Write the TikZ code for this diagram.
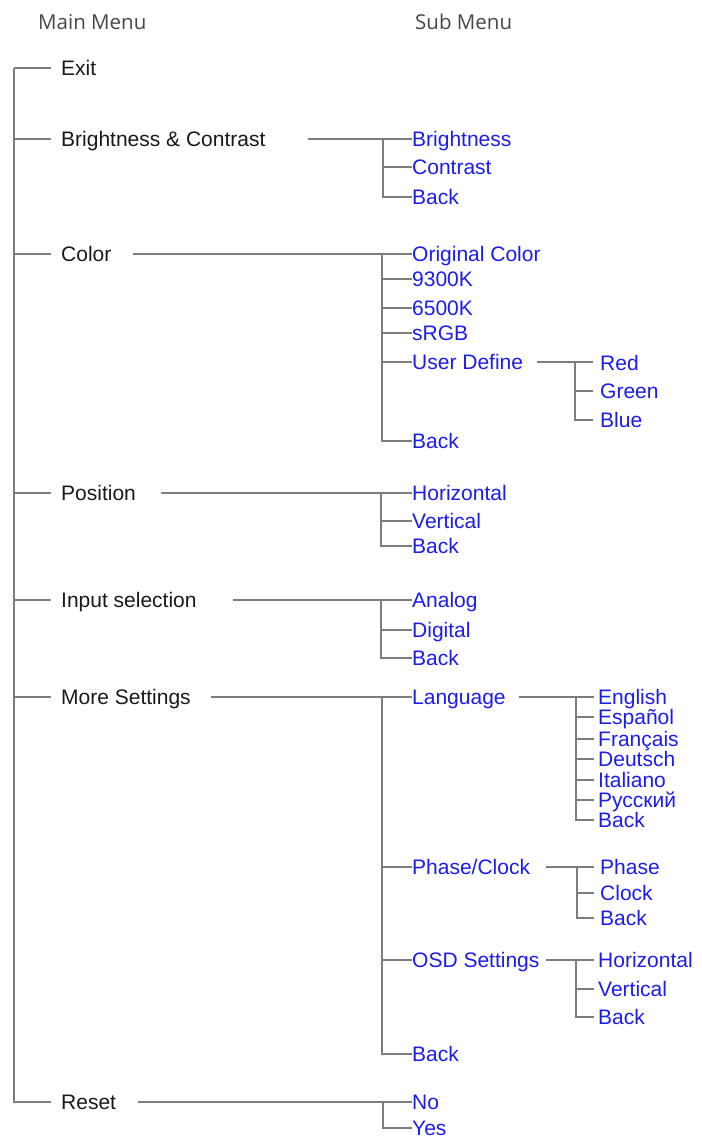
\documentclass[tikz,border=0pt]{standalone}
\usepackage{fontspec}
\setmainfont{Liberation Sans}
\newfontfamily\headfont{Open Sans}
\usetikzlibrary{positioning}

\definecolor{menublue}{RGB}{28,28,235}
\definecolor{treegray}{RGB}{125,125,125}

\begin{document}
\begin{tikzpicture}[
    x=1pt, y=-1pt,
    every node/.style={inner sep=0pt, anchor=west, text height=15pt, text depth=0pt},
    head/.style={font=\headfont\fontsize{20.5}{24}\selectfont, text=black!72},
    mainitem/.style={font=\fontsize{21}{25}\selectfont, text=black!90},
    subitem/.style={font=\fontsize{21}{25}\selectfont, text=menublue},
    link/.style={draw=treegray, line width=1.4pt}
]
    \useasboundingbox (0,0) rectangle (701,1139);

    % Headers
    \node (mainhead) [head] at (38,22) {Main Menu};
    \node (subhead) [head] at (415,22) {Sub Menu};

    % Main menu
    \node (exit) [mainitem] at (61,68) {Exit};
    \node (bc) [mainitem] at (61,139) {Brightness \& Contrast};
    \node (color) [mainitem] at (61,254) {Color};
    \node (position) [mainitem] at (61,493) {Position};
    \node (input) [mainitem] at (61,600) {Input selection};
    \node (more) [mainitem] at (61,697) {More Settings};
    \node (reset) [mainitem] at (61,1102) {Reset};

    % Brightness & Contrast
    \node (bright) [subitem] at (412,139) {Brightness};
    \node (contrast) [subitem] at (412,167) {Contrast};
    \node (bcback) [subitem] at (412,197) {Back};

    % Color
    \node (orig) [subitem] at (412,254) {Original Color};
    \node (k9300) [subitem] at (412,279) {9300K};
    \node (k6500) [subitem] at (412,308) {6500K};
    \node (srgb) [subitem] at (412,333) {sRGB};
    \node (userdef) [subitem] at (412,362) {User Define};
    \node (colback) [subitem] at (412,441) {Back};
    \node (udred) [subitem] at (600,363) {Red};
    \node (udgreen) [subitem] at (600,391) {Green};
    \node (udblue) [subitem] at (600,420) {Blue};

    % Position
    \node (horiz) [subitem] at (412,493) {Horizontal};
    \node (vert) [subitem] at (412,521) {Vertical};
    \node (posback) [subitem] at (412,546) {Back};

    % Input selection
    \node (analog) [subitem] at (412,600) {Analog};
    \node (digital) [subitem] at (412,630) {Digital};
    \node (inback) [subitem] at (412,658) {Back};

    % More Settings
    \node (lang) [subitem] at (412,697) {Language};
    \node (phaseclock) [subitem] at (412,867) {Phase/Clock};
    \node (osd) [subitem] at (412,960) {OSD Settings};
    \node (moreback) [subitem] at (412,1054) {Back};
    \node (english) [subitem] at (598,697) {English};
    \node (espanol) [subitem] at (598,717) {Español};
    \node (francais) [subitem] at (598,739) {Français};
    \node (deutsch) [subitem] at (598,759) {Deutsch};
    \node (italiano) [subitem] at (598,780) {Italiano};
    \node (russian) [subitem] at (598,800) {Русский};
    \node (langback) [subitem] at (598,820) {Back};
    \node (phase) [subitem] at (600,867) {Phase};
    \node (clock) [subitem] at (600,893) {Clock};
    \node (phback) [subitem] at (600,918) {Back};
    \node (osdh) [subitem] at (598,960) {Horizontal};
    \node (osdv) [subitem] at (598,989) {Vertical};
    \node (osdback) [subitem] at (598,1017) {Back};

    % Reset
    \node (no) [subitem] at (412,1102) {No};
    \node (yes) [subitem] at (412,1128) {Yes};

    % Main trunk
    \draw [link, shorten >=10pt] ([xshift=-47pt]exit.west) -- (exit.west);
    \foreach \m in {bc,color,position,input,more,reset}
        \draw [link, shorten >=10pt] ([xshift=-47pt]exit.west) |- (\m.west);

    % Sub menus
    \draw [link] ([xshift=42pt]bc.east) -- (bc.east -| bright.west);
    \foreach \c in {contrast,bcback}
        \draw [link] ([xshift=-29pt]bright.west) |- (\c.west);

    \draw [link] ([xshift=21pt]color.east) -- (color.east -| orig.west);
    \foreach \c in {k9300,k6500,srgb,userdef,colback}
        \draw [link] ([xshift=-30pt]orig.west) |- (\c.west);
    \draw [link, shorten >=7pt] ([xshift=14pt]userdef.east) -- (userdef.east -| udred.west);
    \foreach \c in {udgreen,udblue}
        \draw [link, shorten >=7pt] ([xshift=-25pt]udred.west) |- (\c.west);

    \draw [link] ([xshift=25pt]position.east) -- (position.east -| horiz.west);
    \foreach \c in {vert,posback}
        \draw [link] ([xshift=-31pt]horiz.west) |- (\c.west);

    \draw [link] ([xshift=36pt]input.east) -- (input.east -| analog.west);
    \foreach \c in {digital,inback}
        \draw [link] ([xshift=-31pt]analog.west) |- (\c.west);

    \draw [link] ([xshift=20pt]more.east) -- (more.east -| lang.west);
    \foreach \c in {phaseclock,osd,moreback}
        \draw [link] ([xshift=-30pt]lang.west) |- (\c.west);
    \draw [link, shorten >=4pt] ([xshift=13pt]lang.east) -- (lang.east -| english.west);
    \foreach \c in {espanol,francais,deutsch,italiano,russian,langback}
        \draw [link, shorten >=4pt] ([xshift=-22pt]english.west) |- (\c.west);
    \draw [link, shorten >=6pt] ([xshift=16pt]phaseclock.east) -- (phaseclock.east -| phase.west);
    \foreach \c in {clock,phback}
        \draw [link, shorten >=6pt] ([xshift=-23pt]phase.west) |- (\c.west);
    \draw [link, shorten >=4pt] ([xshift=6pt]osd.east) -- (osd.east -| osdh.west);
    \foreach \c in {osdv,osdback}
        \draw [link, shorten >=4pt] ([xshift=-22pt]osdh.west) |- (\c.west);

    \draw [link] ([xshift=22pt]reset.east) -- (reset.east -| no.west);
    \draw [link] ([xshift=-29pt]no.west) |- (yes.west);
\end{tikzpicture}
\end{document}
